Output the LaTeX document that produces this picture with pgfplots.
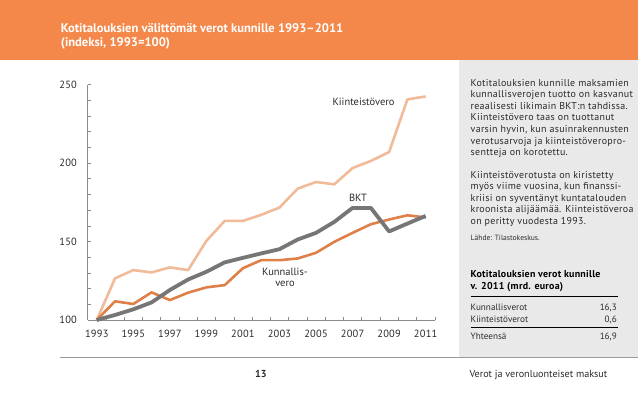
\documentclass[border=0pt]{standalone}
\usepackage{pgfplots}
\pgfplotsset{compat=1.18}
\usepackage{fontspec}
\setmainfont{PT Sans}
\definecolor{hdr}{HTML}{F4874A}
\definecolor{panel}{HTML}{E9E9E9}
\definecolor{rulegray}{HTML}{9A9A9A}
\definecolor{axisgray}{HTML}{8C8C8C}
\definecolor{kiint}{HTML}{F1BB99}
\definecolor{kunn}{HTML}{DE8048}
\definecolor{bkt}{HTML}{767676}
\definecolor{txt}{HTML}{2B2B2B}
\newcommand{\pl}[2]{\node[anchor=base west, inner sep=0pt, text=txt, font={\fontsize{10}{11}\selectfont\addfontfeature{LetterSpace=3}}] at (470.5,#1) {#2};}
\begin{document}
\begin{tikzpicture}
\useasboundingbox (0,0) rectangle (638bp,-399bp);
\fill[white] (0,0) rectangle (638bp,-399bp);
\begin{scope}[x=1bp,y=-1bp]
\fill[hdr] (0,0) rectangle (638,59.5);
\fill[panel] (458.5,59.5) rectangle (638,357.5);
\draw[rulegray, line width=1.2bp] (60,357.5) -- (638,357.5);
\node[anchor=base west, inner sep=0pt, text=white, font={\fontsize{12.6}{15}\selectfont\bfseries}] at (60.7,32.3) {Kotitalouksien välittömät verot kunnille 1993–2011};
\node[anchor=base west, inner sep=0pt, text=white, font={\fontsize{12.6}{15}\selectfont\bfseries}] at (60.7,46.7) {(indeksi, 1993=100)};
% panel text
\pl{86}{Kotitalouksien kunnille maksamien}
\pl{97.6}{kunnallisverojen tuotto on kasvanut}
\pl{109.2}{reaalisesti likimain BKT:n tahdissa.}
\pl{120.8}{Kiinteistövero taas on tuottanut}
\pl{132.4}{varsin hyvin, kun asuinrakennusten}
\pl{144}{verotusarvoja ja kiinteistöveropro-}
\pl{155.6}{sentteja on korotettu.}
\pl{178}{Kiinteistöverotusta on kiristetty}
\pl{189.6}{myös viime vuosina, kun finanssi-}
\pl{201.2}{kriisi on syventänyt kuntatalouden}
\pl{212.8}{kroonista alijäämää. Kiinteistöveroa}
\pl{224.4}{on peritty vuodesta 1993.}
\node[anchor=base west, inner sep=0pt, text=txt, font={\fontsize{7.6}{9}\selectfont}] at (470.5,240) {Lähde: Tilastokeskus.};
% table
\node[anchor=base west, inner sep=0pt, text=black, font={\fontsize{10}{11}\selectfont\bfseries\addfontfeature{LetterSpace=2.5}}] at (470.5,277.5) {Kotitalouksien verot kunnille};
\node[anchor=base west, inner sep=0pt, text=black, font={\fontsize{10}{11}\selectfont\bfseries\addfontfeature{LetterSpace=2.5}}] at (470.5,289.5) {v. 2011 (mrd. euroa)};
\draw[black, line width=0.8bp] (470.5,296.5) -- (618,296.5);
\node[anchor=base west, inner sep=0pt, text=txt, font={\fontsize{9.2}{11}\selectfont}] at (470.5,310.8) {Kunnallisverot};
\node[anchor=base east, inner sep=0pt, text=txt, font={\fontsize{9.2}{11}\selectfont}] at (617,310.8) {16,3};
\node[anchor=base west, inner sep=0pt, text=txt, font={\fontsize{9.2}{11}\selectfont}] at (470.5,322.4) {Kiinteistöverot};
\node[anchor=base east, inner sep=0pt, text=txt, font={\fontsize{9.2}{11}\selectfont}] at (617,322.4) {0,6};
\draw[black, line width=0.8bp] (470.5,327.5) -- (618,327.5);
\node[anchor=base west, inner sep=0pt, text=txt, font={\fontsize{9.2}{11}\selectfont}] at (470.5,339.3) {Yhteensä};
\node[anchor=base east, inner sep=0pt, text=txt, font={\fontsize{9.2}{11}\selectfont}] at (617,339.3) {16,9};
% footer
\node[anchor=base, inner sep=0pt, text=txt, font={\fontsize{10.2}{12}\selectfont\bfseries}] at (261,377.5) {13};
\node[anchor=base west, inner sep=0pt, text=txt, font={\fontsize{10.2}{12}\selectfont}] at (469.3,377.5) {Verot ja veronluonteiset maksut};
\end{scope}
\begin{axis}[
  at={(87.6bp,-320bp)}, anchor=south west,
  scale only axis, width=347.2bp, height=235.5bp,
  xmin=1992.5, xmax=2011.5, ymin=100, ymax=250,
  axis x line*=bottom, axis y line*=left,
  axis line style={draw=axisgray, line width=0.6bp, -},
  xtick={1993,1995,...,2011}, ytick={100,150,200,250},
  minor xtick={1992.5,1993.5,...,2011.5}, minor ytick={110,120,...,250},
  major tick length=0pt, minor tick length=3bp, tick align=inside,
  minor tick style={draw=axisgray, line width=0.5bp},
  tick label style={font={\fontsize{10.5}{12}\selectfont\addfontfeature{LetterSpace=2}}, text=txt},
  xticklabel style={yshift=-7bp},
  yticklabel style={xshift=-7.2bp},
  /pgf/number format/assume math mode=true,
  /pgf/number format/1000 sep={},
  clip=false,
]
\addplot[kiint, line width=2.6bp, line join=round] coordinates {
(1993,100) (1994,126.5) (1995,131.8) (1996,130.3) (1997,133.5) (1998,131.8)
(1999,150.4) (2000,163.1) (2001,163.1) (2002,167) (2003,171.6) (2004,183.7)
(2005,187.9) (2006,186.4) (2007,196.8) (2008,201.3) (2009,207) (2010,240.5) (2011,242.4)};
\addplot[kunn, line width=2.6bp, line join=round] coordinates {
(1993,100) (1994,111.9) (1995,110.2) (1996,117.6) (1997,112.7) (1998,117.4)
(1999,120.8) (2000,122.2) (2001,133) (2002,138.1) (2003,138.1) (2004,139.2)
(2005,142.8) (2006,149.8) (2007,155.5) (2008,161) (2009,164) (2010,166.7) (2011,165.3)};
\addplot[bkt, line width=3.8bp, line join=round] coordinates {
(1993,100) (1994,103.2) (1995,106.8) (1996,111.2) (1997,119.1) (1998,125.8)
(1999,130.7) (2000,136.7) (2001,139.6) (2002,142.4) (2003,145.1) (2004,151.3)
(2005,155.5) (2006,162.5) (2007,171.4) (2008,171.4) (2009,156.4) (2010,161.4) (2011,166.3)};
\node[text=txt, font={\fontsize{10.5}{12}\selectfont}] at (axis cs:2007.6,239.2) {Kiinteistövero};
\node[text=txt, font={\fontsize{10.5}{12}\selectfont}] at (axis cs:2007.3,177.8) {BKT};
\node[text=txt, align=center, font={\fontsize{10.5}{11.2}\selectfont}] at (axis cs:2003.3,127.3) {Kunnallis-\\vero};
\end{axis}
\end{tikzpicture}
\end{document}
